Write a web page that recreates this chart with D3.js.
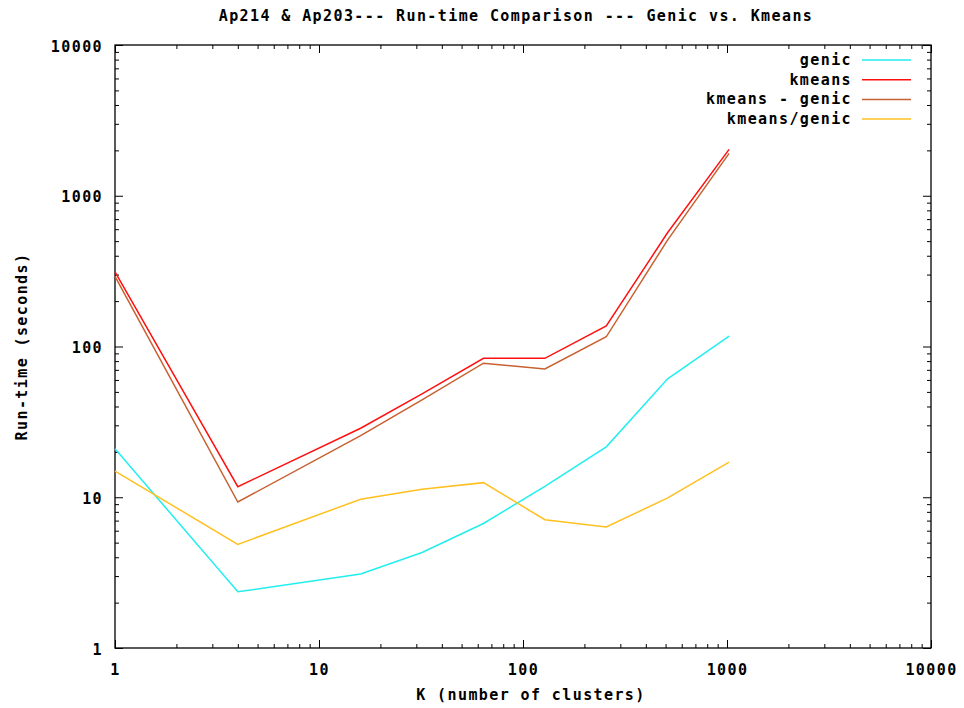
<!DOCTYPE html>
<html>
<head>
  <meta charset="utf-8">
  <title>Ap214 & Ap203 Run-time Comparison</title>
  <script src="https://d3js.org/d3.v7.min.js"></script>
  <style>
    body { margin: 0; background: #fff; }
    svg text {
      font-family: "DejaVu Sans Mono", "Liberation Mono", monospace;
      font-weight: bold;
      font-size: 15px;
      letter-spacing: 1.4px;
      fill: #000;
    }
  </style>
</head>
<body>
<script>
// cluster counts on the x axis
var clusters = [1, 4, 16, 32, 64, 128, 256, 512, 1024];

// run-times in seconds
var genic       = [21, 2.36, 3.1, 4.3, 6.7, 11.8, 21.6, 61, 117];
var kmeans      = [313, 11.75, 28.7, 48.5, 83.5, 83.5, 137, 570, 2030];
var kmeansMinus = [292, 9.3, 25.6, 44.2, 77.5, 71, 116, 510, 1910];
var kmeansRatio = [14.9, 4.87, 9.7, 11.3, 12.5, 7.1, 6.35, 9.9, 17.1];

var seriesNames  = ["genic", "kmeans", "kmeans - genic", "kmeans/genic"];
var seriesValues = [genic, kmeans, kmeansMinus, kmeansRatio];
var seriesColors = ["#22eeee", "#ff1010", "#c86030", "#ffc020"];

var decadeTicks = [1, 10, 100, 1000, 10000];

// gnuplot style minor ticks at 2..9 of each decade
var minorTicks = [];
decadeTicks.slice(0, -1).forEach(function (d) {
  for (var k = 2; k <= 9; k++) minorTicks.push(d * k);
});

var W = 964, H = 708;
var marginLeft = 115, marginTop = 45, width = 816, height = 603;

var svg = d3.select("body").append("svg")
    .attr("width", W)
    .attr("height", H);

var g = svg.append("g")
    .attr("transform", "translate(" + marginLeft + "," + marginTop + ")");

var x = d3.scaleLog().domain([1, 10000]).range([0, width]);
var y = d3.scaleLog().domain([1, 10000]).range([height, 0]);

/*
  axes: ticks point inward and are mirrored on all four sides
*/
function styleAxis(sel) {
  sel.select(".domain").remove();
  sel.selectAll(".tick line").attr("stroke", "#000");
  sel.attr("font-family", null).attr("font-size", null);
}

g.append("g")
    .attr("transform", "translate(0," + height + ")")
    .call(d3.axisBottom(x).tickValues(decadeTicks).tickSize(-8).tickFormat(d3.format("d")))
    .call(styleAxis)
    .selectAll(".tick text")
      .attr("y", 27)
      .attr("dy", null);

g.append("g")
    .attr("transform", "translate(0," + height + ")")
    .call(d3.axisBottom(x).tickValues(minorTicks).tickSize(-4).tickFormat(""))
    .call(styleAxis);

g.append("g")
    .call(d3.axisTop(x).tickValues(decadeTicks).tickSize(-8).tickFormat(""))
    .call(styleAxis);

g.append("g")
    .call(d3.axisTop(x).tickValues(minorTicks).tickSize(-4).tickFormat(""))
    .call(styleAxis);

g.append("g")
    .call(d3.axisLeft(y).tickValues(decadeTicks).tickSize(-8).tickFormat(d3.format("d")))
    .call(styleAxis)
    .selectAll(".tick text")
      .attr("x", -12)
      .attr("y", 6)
      .attr("dy", null);

g.append("g")
    .call(d3.axisLeft(y).tickValues(minorTicks).tickSize(-4).tickFormat(""))
    .call(styleAxis);

g.append("g")
    .attr("transform", "translate(" + width + ",0)")
    .call(d3.axisRight(y).tickValues(decadeTicks).tickSize(-8).tickFormat(""))
    .call(styleAxis);

g.append("g")
    .attr("transform", "translate(" + width + ",0)")
    .call(d3.axisRight(y).tickValues(minorTicks).tickSize(-4).tickFormat(""))
    .call(styleAxis);

// plot border
g.append("rect")
    .attr("x", 0)
    .attr("y", 0)
    .attr("width", width)
    .attr("height", height)
    .attr("fill", "none")
    .attr("stroke", "#000")
    .attr("stroke-width", 1.3);

/*
  series lines
*/
var line = d3.line()
    .x(function (d) { return x(d[0]); })
    .y(function (d) { return y(d[1]); });

seriesValues.forEach(function (vals, i) {
  var pts = clusters.map(function (c, j) { return [c, vals[j]]; });
  g.append("path")
      .datum(pts)
      .attr("fill", "none")
      .attr("stroke", seriesColors[i])
      .attr("stroke-width", 1.5)
      .attr("d", line);
});

/*
  legend, top right inside the plot
*/
var legend = svg.append("g").attr("class", "legend");
seriesNames.forEach(function (name, i) {
  var ly = 60 + i * 19.7;
  legend.append("text")
      .attr("x", 852)
      .attr("y", ly + 5)
      .attr("text-anchor", "end")
      .text(name);
  legend.append("line")
      .attr("x1", 862)
      .attr("x2", 911)
      .attr("y1", ly)
      .attr("y2", ly)
      .attr("stroke", seriesColors[i])
      .attr("stroke-width", 1.5);
});

// titles
svg.append("text")
    .attr("x", 516)
    .attr("y", 21)
    .attr("text-anchor", "middle")
    .text("Ap214 & Ap203--- Run-time Comparison --- Genic vs. Kmeans");

svg.append("text")
    .attr("x", marginLeft + width / 2 + 8)
    .attr("y", 700)
    .attr("text-anchor", "middle")
    .text("K (number of clusters)");

svg.append("text")
    .attr("transform", "translate(27," + (marginTop + height / 2) + ") rotate(-90)")
    .attr("text-anchor", "middle")
    .text("Run-time (seconds)");
</script>
</body>
</html>
